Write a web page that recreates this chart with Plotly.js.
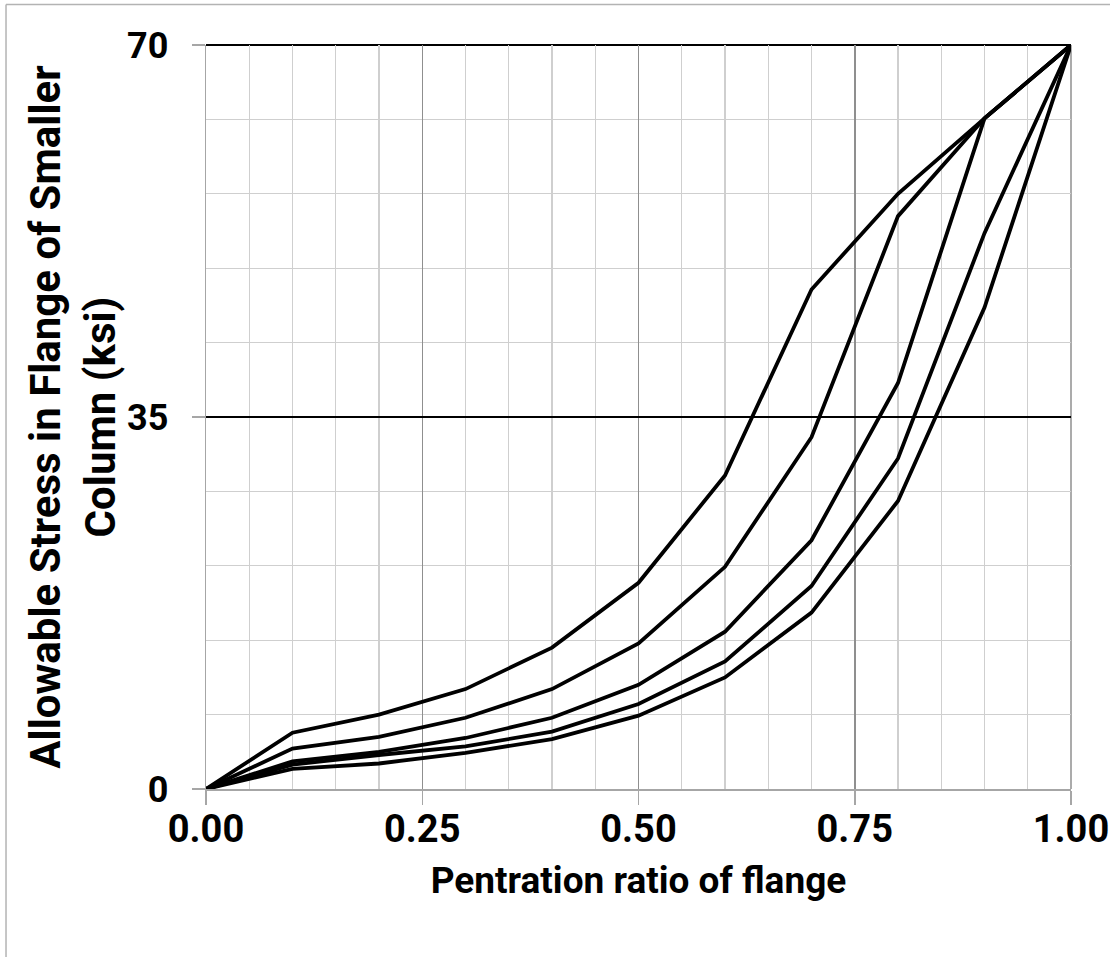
<!DOCTYPE html>
<html>
<head>
<meta charset="utf-8">
<script src="https://cdn.plot.ly/plotly-3.0.1.min.js"></script>
<style>html,body{margin:0;padding:0;background:#fff;}#chart{width:1110px;height:957px;}</style>
</head>
<body>
<div id="chart"></div>
<script>
// Penetration ratio of flange
var ratio = [0.0, 0.1, 0.2, 0.3, 0.4, 0.5, 0.6, 0.7, 0.8, 0.9, 1.0];
// Allowable stress curves (ksi), top to bottom
var curve1 = [0, 5.3, 7.0, 9.4, 13.3, 19.4, 29.5, 47.0, 56.0, 63.1, 70];
var curve2 = [0, 3.8, 4.9, 6.7, 9.4, 13.7, 20.9, 33.1, 53.9, 63.1, 70];
var curve3 = [0, 2.6, 3.5, 4.8, 6.7, 9.8, 14.8, 23.4, 38.2, 63.1, 70];
var curve4 = [0, 2.3, 3.2, 4.0, 5.4, 8.0, 12.0, 19.1, 31.1, 52.3, 70];
var curve5 = [0, 1.9, 2.4, 3.4, 4.7, 6.9, 10.5, 16.6, 27.1, 45.3, 70];
var xTickVals = [0, 0.25, 0.5, 0.75, 1.0];
var xTickText = ['0.00', '0.25', '0.50', '0.75', '1.00'];
var yTickVals = [0, 35, 70];
var yTickText = ['0', '35', '70'];

var curves = [curve1, curve2, curve3, curve4, curve5];
var traces = curves.map(function (c, i) {
  return {
    x: ratio, y: c, type: 'scatter', mode: 'lines',
    line: {color: '#000000', width: 3.8},
    name: 'Curve ' + (i + 1), showlegend: false, hoverinfo: 'skip'
  };
});

var FONT = 'Roboto, "Liberation Sans", Arial, sans-serif';
var layout = {
  width: 1110, height: 957,
  margin: {l: 206, r: 39, t: 45, b: 168, pad: 0},
  paper_bgcolor: '#ffffff', plot_bgcolor: '#ffffff',
  showlegend: false,
  font: {family: FONT, color: '#000000'},
  xaxis: {
    range: [0, 1], tickmode: 'array', tickvals: xTickVals, ticktext: xTickText,
    showgrid: true, gridcolor: '#8f8f8f', gridwidth: 1.5,
    minor: {dtick: 0.05, showgrid: true, gridcolor: '#cfcfcf', gridwidth: 1.3, ticks: ''},
    zeroline: false, showline: true, linecolor: '#a6a6a6', linewidth: 1.5,
    ticks: 'outside', ticklen: 14, tickcolor: '#a6a6a6', tickwidth: 1.5,
    ticklabelstandoff: -8, ticklabeloverflow: 'allow',
    tickfont: {family: FONT, size: 38, color: '#000000', weight: 'bold'},
    title: {text: '<b>Pentration ratio of flange</b>', font: {family: FONT, size: 37, color: '#000000'}, standoff: 17},
    fixedrange: true
  },
  yaxis: {
    range: [0, 70], tickmode: 'array', tickvals: yTickVals, ticktext: yTickText,
    showgrid: true, gridcolor: '#000000', gridwidth: 1.5,
    minor: {dtick: 7, showgrid: true, gridcolor: '#cfcfcf', gridwidth: 1.3, ticks: ''},
    zeroline: false, showline: true, linecolor: '#a6a6a6', linewidth: 1.5,
    ticks: 'outside', ticklen: 13, tickcolor: '#a6a6a6', tickwidth: 1.5,
    ticklabelstandoff: 16, ticklabeloverflow: 'allow',
    tickfont: {family: FONT, size: 36, color: '#000000', weight: 'bold'},
    title: {text: '<b>Allowable Stress in Flange of Smaller<br>Column (ksi)</b>', font: {family: FONT, size: 42, color: '#000000'}},
    fixedrange: true
  },
  shapes: [
    // major grid line at the top edge (70) and right edge (1.00)
    {type: 'line', xref: 'paper', yref: 'paper', x0: 0, x1: 1, y0: 1, y1: 1, line: {color: '#000000', width: 1.8}, layer: 'below'},
    {type: 'line', xref: 'paper', yref: 'paper', x0: 1, x1: 1, y0: 0, y1: 1, line: {color: '#8f8f8f', width: 1.5}, layer: 'below'},
    // chart frame
    {type: 'line', xref: 'paper', yref: 'paper', x0: -0.2312, x1: -0.2312, y0: -0.3, y1: 1.0545, line: {color: '#b3b3b3', width: 1.5}},
    {type: 'line', xref: 'paper', yref: 'paper', x0: -0.2312, x1: 1.1, y0: 1.0545, y1: 1.0545, line: {color: '#b3b3b3', width: 1.5}}
  ]
};

Plotly.newPlot('chart', traces, layout, {staticPlot: true, displayModeBar: false});
</script>
</body>
</html>
